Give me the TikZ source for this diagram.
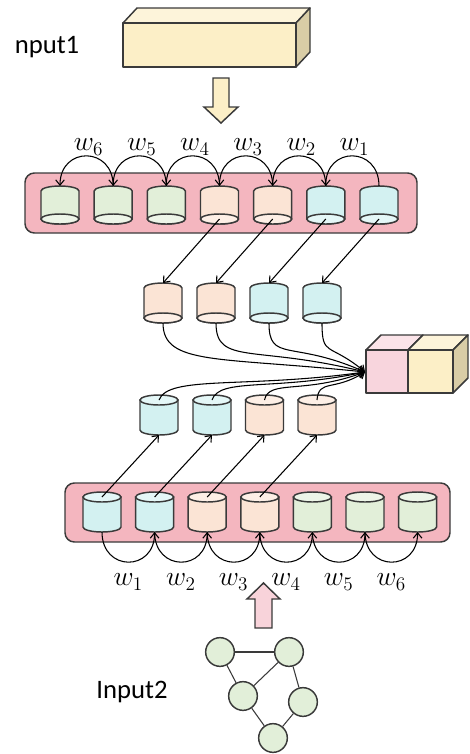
\documentclass[tikz,border=0pt]{standalone}
\usepackage{fontspec}
\newfontfamily\labelfont{Carlito}
\usetikzlibrary{arrows.meta,calc}

\definecolor{bandpink}{HTML}{F4B6BF}
\definecolor{edgegray}{HTML}{3A3A3A}
\definecolor{cgreen}{HTML}{E2EFD9}
\definecolor{cgreenend}{HTML}{EDF5E8}
\definecolor{cpeach}{HTML}{FBE4D5}
\definecolor{cpeachend}{HTML}{FDEFE6}
\definecolor{ccyan}{HTML}{D3F1F1}
\definecolor{ccyanend}{HTML}{E4F7F7}
\definecolor{boxyellow}{HTML}{FCEFC7}
\definecolor{boxyellowtop}{HTML}{FDF4DA}
\definecolor{boxyellowside}{HTML}{D9CDA6}
\definecolor{boxpink}{HTML}{F8D5DD}
\definecolor{boxpinktop}{HTML}{FBE4E9}
\definecolor{arrowpink}{HTML}{F8D3DA}
\definecolor{nodegreen}{HTML}{E2EFD9}

\tikzset{
  cylline/.style={draw=edgegray, line width=1.1pt},
  bandbox/.style={draw=edgegray, line width=1.1pt, fill=bandpink, rounded corners=7pt},
  link/.style={draw=black, line width=0.8pt, -{Straight Barb[length=4pt,width=6.5pt]}},
  plainlink/.style={draw=edgegray, line width=0.8pt},
  facebox/.style={draw=edgegray, line width=1.1pt, line join=round},
  wlabel/.style={inner sep=0pt, font=\fontsize{21}{24}\selectfont},
  sidelabel/.style={inner sep=0pt, font=\labelfont\fontsize{20}{24}\selectfont},
  gnode/.style={circle, draw=edgegray, line width=1.1pt, fill=nodegreen, minimum size=21.5pt, inner sep=0pt},
  blockarrow/.style={draw=edgegray, line width=1.1pt, line join=miter}
}

% cylinder seen from below: top rim arc, full bottom ellipse
% #1 centre x, #2 top y, #3 bottom ellipse centre y, #4 body colour, #5 end colour
\newcommand\cylBelow[5]{%
  \filldraw[cylline, fill=#4] ({#1-19},{#2+5}) arc[start angle=180,end angle=360,x radius=19,y radius=5]
    -- ({#1+19},#3) arc[start angle=0,end angle=180,x radius=19,y radius=5] -- cycle;
  \filldraw[cylline, fill=#5] (#1,#3) ellipse[x radius=19,y radius=5];
}
% cylinder seen from above: full top ellipse, bottom rim arc
% #1 centre x, #2 top ellipse centre y, #3 bottom arc centre y, #4 body colour, #5 end colour
\newcommand\cylAbove[5]{%
  \filldraw[cylline, fill=#4] ({#1-19},#2) -- ({#1-19},#3)
    arc[start angle=180,end angle=0,x radius=19,y radius=5] -- ({#1+19},#2) -- cycle;
  \filldraw[cylline, fill=#5] (#1,#2) ellipse[x radius=19,y radius=5];
}

\begin{document}
\begin{tikzpicture}[x=0.75pt,y=-0.75pt]
\useasboundingbox (0,0) rectangle (469,754);

% ---- first input: a long 3D bar ----
\node[sidelabel] (in1) at (47,47) {nput1};
\filldraw[facebox, fill=boxyellowtop] (123,23) -- (137,8) -- (310,8) -- (296,23) -- cycle;
\filldraw[facebox, fill=boxyellowside] (296,23) -- (310,8) -- (310,52) -- (296,67) -- cycle;
\filldraw[facebox, fill=boxyellow] (123,23) rectangle (296,67);

% hollow block arrow pointing down
\filldraw[blockarrow, fill=boxyellow] (213,78) -- (229,78) -- (229,107) -- (238,107)
  -- (221,123) -- (204,107) -- (213,107) -- cycle;

% ---- upper sequence band ----
\draw[bandbox] (25,173) rectangle (417,233);
\foreach \x/\c [count=\i] in {60/cgreen,113.2/cgreen,166.3/cgreen,219.5/cpeach,272.7/cpeach,325.8/ccyan,379/ccyan}{
  \cylBelow{\x}{186}{219}{\c}{\c end}
  \coordinate (t\i-top) at (\x,186);
  \coordinate (t\i-end) at (\x,219);
}
% recurrent links, right to left
\foreach \a/\b in {7/6,6/5,5/4,4/3,3/2,2/1}{
  \draw[link] (t\a-top) .. controls +(0,-40) and +(0,-40) .. (t\b-top);
}
\foreach \k/\a/\b in {1/6/7,2/5/6,3/4/5,4/3/4,5/2/3,6/1/2}{
  \node[wlabel] (tw\k) at ($(t\a-top)!0.5!(t\b-top)+(2,-39)$) {$w_{\k}$};
}

% ---- upper middle cylinders ----
\foreach \x/\c [count=\i] in {163/cpeach,216/cpeach,269/ccyan,322/ccyan}{
  \cylBelow{\x}{283}{318}{\c}{\c end}
  \coordinate (um\i-top) at (\x,283);
  \coordinate (um\i-bot) at (\x,323);
}
\foreach \a/\b in {4/1,5/2,6/3,7/4}{
  \draw[link] (t\a-end) -- (um\b-top);
}

% ---- fused output block ----
\filldraw[facebox, fill=boxpinktop] (366,350) -- (381,335) -- (423,335) -- (408,350) -- cycle;
\filldraw[facebox, fill=boxyellowtop] (408,350) -- (423,335) -- (468,335) -- (453,350) -- cycle;
\filldraw[facebox, fill=boxyellowside] (453,350) -- (468,335) -- (468,378) -- (453,393) -- cycle;
\filldraw[facebox, fill=boxpink] (366,350) rectangle (408,393);
\filldraw[facebox, fill=boxyellow] (408,350) rectangle (453,393);
\coordinate (hub) at (365,372);

% ---- lower middle cylinders ----
\foreach \x/\c [count=\i] in {159/ccyan,212/ccyan,264.5/cpeach,317/cpeach}{
  \cylAbove{\x}{400}{430}{\c}{\c end}
  \coordinate (lm\i-top) at (\x,400);
  \coordinate (lm\i-bot) at (\x,435);
}

% converging links into the fused block
\foreach \i/\ang/\od/\id in {1/174/32/110,2/166/32/85,3/156/30/60,4/140/26/35}{
  \draw[link] (um\i-bot) to[out=-90,in=\ang,out distance=\od,in distance=\id] (hub);
}
\foreach \i/\oa/\ang/\od/\id in {1/70/188/20/90,2/72/192/18/70,3/78/200/16/50,4/85/212/16/28}{
  \draw[link] (lm\i-top) to[out=\oa,in=\ang,out distance=\od,in distance=\id] (hub);
}

% ---- lower sequence band ----
\draw[bandbox] (65,483) rectangle (450,542);
\foreach \x/\c [count=\i] in {102/ccyan,154.6/ccyan,207.2/cpeach,259.8/cpeach,312.4/cgreen,365/cgreen,417.6/cgreen}{
  \cylAbove{\x}{497}{527}{\c}{\c end}
  \coordinate (b\i-top) at (\x,497);
  \coordinate (b\i-bot) at (\x,532);
}
\foreach \i in {1,2,3,4}{
  \draw[link] (b\i-top) -- (lm\i-bot);
}
% recurrent links, left to right
\foreach \a/\b in {1/2,2/3,3/4,4/5,5/6,6/7}{
  \draw[link] (b\a-bot) .. controls +(0,40) and +(0,40) .. (b\b-bot);
  \node[wlabel] (bw\a) at ($(b\a-bot)!0.5!(b\b-bot)+(0,50)$) {$w_{\a}$};
}

% hollow block arrow pointing up
\filldraw[blockarrow, fill=arrowpink] (255,628) -- (272,628) -- (272,599) -- (280,599)
  -- (263.5,583) -- (247,599) -- (255,599) -- cycle;

% ---- second input: a small graph ----
\node[sidelabel] (in2) at (132,692) {Input2};
\node[gnode] (ga) at (220,652) {};
\node[gnode] (gb) at (289,652) {};
\node[gnode] (gc) at (243,696) {};
\node[gnode] (gd) at (303,702) {};
\node[gnode] (ge) at (273,738) {};
\draw[plainlink] (ga) -- (gb);
\draw[plainlink] (ga) -- (gc);
\draw[plainlink] (gc) -- (gb);
\draw[plainlink] (gb) -- (gd);
\draw[plainlink] (gc) -- (ge);
\draw[plainlink] (ge) -- (gd);
\end{tikzpicture}
\end{document}
